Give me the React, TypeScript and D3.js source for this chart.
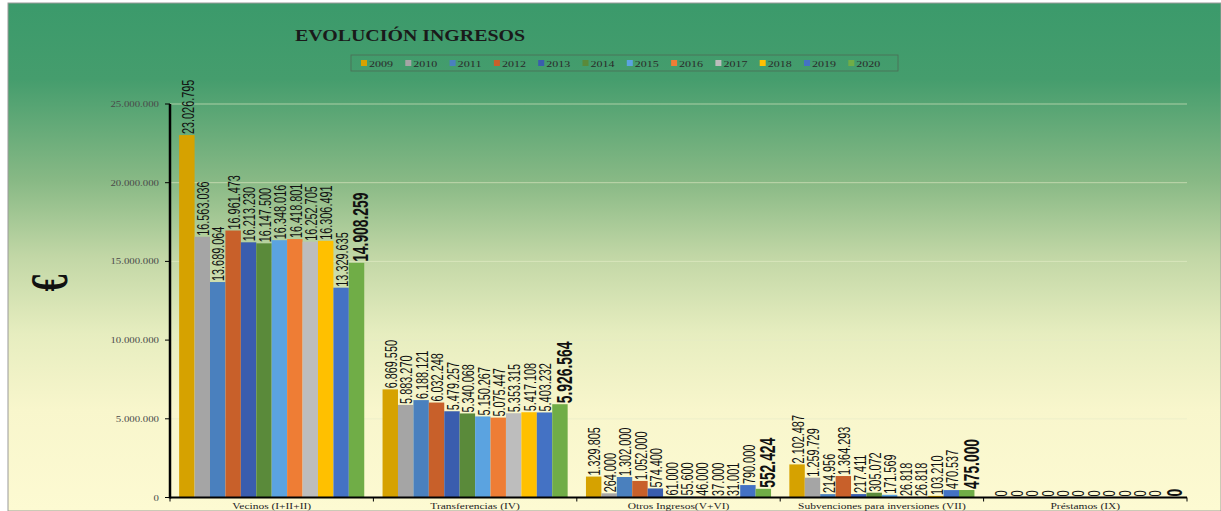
import React from "react";
import * as d3 from "d3";

const categories = [
  "Vecinos (I+II+II)",
  "Transferencias (IV)",
  "Otros Ingresos(V+VI)",
  "Subvenciones para inversiones (VII)",
  "Préstamos (IX)",
];
const years = ["2009", "2010", "2011", "2012", "2013", "2014", "2015", "2016", "2017", "2018", "2019", "2020"];
const colors = ["#D6A200", "#A5A5A5", "#4A80BE", "#C8602A", "#3A5DAE", "#5A8A3A", "#5BA3E0", "#EE7D35", "#BDBDBD", "#FFC000", "#4472C4", "#70AD47"];

const vecinos = [23026795, 16563036, 13689064, 16961473, 16213230, 16147500, 16348016, 16418801, 16252705, 16306491, 13329635, 14908259];
const transferencias = [6869550, 5883270, 6188121, 6032248, 5479257, 5340068, 5150267, 5075447, 5353315, 5417108, 5403232, 5926564];
const otrosIngresos = [1329805, 264000, 1302000, 1052000, 574400, 61000, 55600, 46000, 37000, 31001, 790000, 552424];
const subvenciones = [2102487, 1259729, 214956, 1364293, 217411, 305072, 171569, 26818, 26818, 103210, 470537, 475000];
const prestamos = [0, 0, 0, 0, 0, 0, 0, 0, 0, 0, 0, 0];
const seriesByCategory = [vecinos, transferencias, otrosIngresos, subvenciones, prestamos];
const yTicks = [0, 5000000, 10000000, 15000000, 20000000, 25000000];

const W = 1221;
const H = 511;
const left = 170;
const right = 1187;
const top = 104;
const bottom = 497.5;

const locale = d3.formatLocale({ decimal: ",", thousands: ".", grouping: [3], currency: ["", "€"] });
const fmt = locale.format(",d");

export default function App() {
  const x0 = d3.scaleBand<string>().domain(categories).range([left, right]).padding(0);
  const bw = x0.bandwidth();
  const x1 = d3.scaleBand<string>().domain(years).range([bw * 0.045, bw * 0.955]).padding(0);
  const y = d3.scaleLinear().domain([0, 25000000]).range([bottom, top]);

  const serif = "'Liberation Serif', 'Times New Roman', serif";
  const sans = "'Liberation Sans', Arial, sans-serif";

  const boundaries = categories.map((c) => x0(c) as number).concat([right]);

  return (
    <svg width={W} height={H} style={{ position: "absolute", left: 0, top: 0 }}>
      <defs>
        <linearGradient id="bg" x1="0" y1="0" x2="0" y2="1">
          <stop offset="0" stopColor="#3B9A6B" />
          <stop offset="0.15" stopColor="#459D6D" />
          <stop offset="0.35" stopColor="#88B985" />
          <stop offset="0.5" stopColor="#C2D7A6" />
          <stop offset="0.65" stopColor="#E6EDBF" />
          <stop offset="0.8" stopColor="#F8F6CC" />
          <stop offset="1" stopColor="#FDFAD2" />
        </linearGradient>
      </defs>
      <rect x={0} y={0} width={W} height={H} fill="#ffffff" />
      <rect x={8} y={3} width={W - 8} height={H - 3} fill="url(#bg)" stroke="#9a9a9a" strokeWidth={1} />

      {/* Title */}
      <text x={295} y={41} fontFamily={serif} fontWeight="bold" fontSize={16} fill="#1a1a1a" textLength={230} lengthAdjust="spacingAndGlyphs">
        EVOLUCIÓN INGRESOS
      </text>

      {/* Legend */}
      <rect x={351} y={55} width={547} height={16} fill="none" stroke="#4d6b55" strokeWidth={0.8} />
      {years.map((yr, i) => {
        const lx = 361 + i * 44.3;
        return (
          <g key={yr}>
            <rect x={lx} y={60} width={6} height={6} fill={colors[i]} />
            <text x={lx + 8} y={66.5} fontFamily={serif} fontSize={8.5} fill="#2a2a2a" textLength={24} lengthAdjust="spacingAndGlyphs">
              {yr}
            </text>
          </g>
        );
      })}

      {/* Gridlines */}
      {yTicks.slice(1).map((t) => (
        <line key={t} x1={left} x2={right} y1={y(t)} y2={y(t)} stroke="#e6ecc8" strokeOpacity={0.6} strokeWidth={1} />
      ))}

      {/* Y ticks */}
      {yTicks.map((t) => (
        <g key={"yt" + t}>
          <line x1={left - 5} x2={left} y1={y(t)} y2={y(t)} stroke="#000" strokeWidth={1} />
          <text transform={`translate(159,${y(t) + 3}) scale(1.2,1)`} textAnchor="end" fontFamily={serif} fontSize={9} fill="#4a4a4a">
            {fmt(t)}
          </text>
        </g>
      ))}

      {/* Euro axis title */}
      <text transform={`translate(67,283) rotate(-90) scale(0.65,1)`} textAnchor="middle" fontFamily={serif} fontWeight="bold" fontSize={52} fill="#111">
        €
      </text>

      {/* Bars */}
      {categories.map((cat, ci) => (
        <g key={cat} transform={`translate(${x0(cat)},0)`}>
          {seriesByCategory[ci].map((v, i) => (
            <rect key={i} x={x1(years[i])} y={y(v)} width={x1.bandwidth()} height={bottom - y(v)} fill={colors[i]} />
          ))}
        </g>
      ))}

      {/* Data labels */}
      {categories.map((cat, ci) => (
        <g key={"l" + cat}>
          {seriesByCategory[ci].map((v, i) => {
            const last = i === years.length - 1;
            const cx = (x0(cat) as number) + (x1(years[i]) as number) + x1.bandwidth() / 2 + (last ? 4 : 1);
            const fs = last ? 22 : 16;
            const sx = last ? 0.63 : 0.68;
            return (
              <text
                key={i}
                transform={`translate(${cx},${y(v) - 1}) rotate(-90) scale(${sx},1)`}
                dy="0.36em"
                fontFamily={sans}
                fontWeight={last ? "bold" : "normal"}
                fontSize={fs}
                fill="#111"
              >
                {fmt(v)}
              </text>
            );
          })}
        </g>
      ))}

      {/* Axes lines */}
      <line x1={left} x2={left} y1={top} y2={bottom + 1} stroke="#000" strokeWidth={2.5} />
      <line x1={left} x2={right} y1={bottom} y2={bottom} stroke="#000" strokeWidth={2} />
      {boundaries.map((b, i) => (
        <line key={"xt" + i} x1={b} x2={b} y1={bottom} y2={bottom + 4} stroke="#000" strokeWidth={1} />
      ))}

      {/* Category labels */}
      {categories.map((cat) => (
        <text
          key={"c" + cat}
          transform={`translate(${(x0(cat) as number) + bw / 2},509) scale(1.35,1)`}
          textAnchor="middle"
          fontFamily={serif}
          fontSize={8.5}
          fill="#222"
        >
          {cat}
        </text>
      ))}
    </svg>
  );
}
